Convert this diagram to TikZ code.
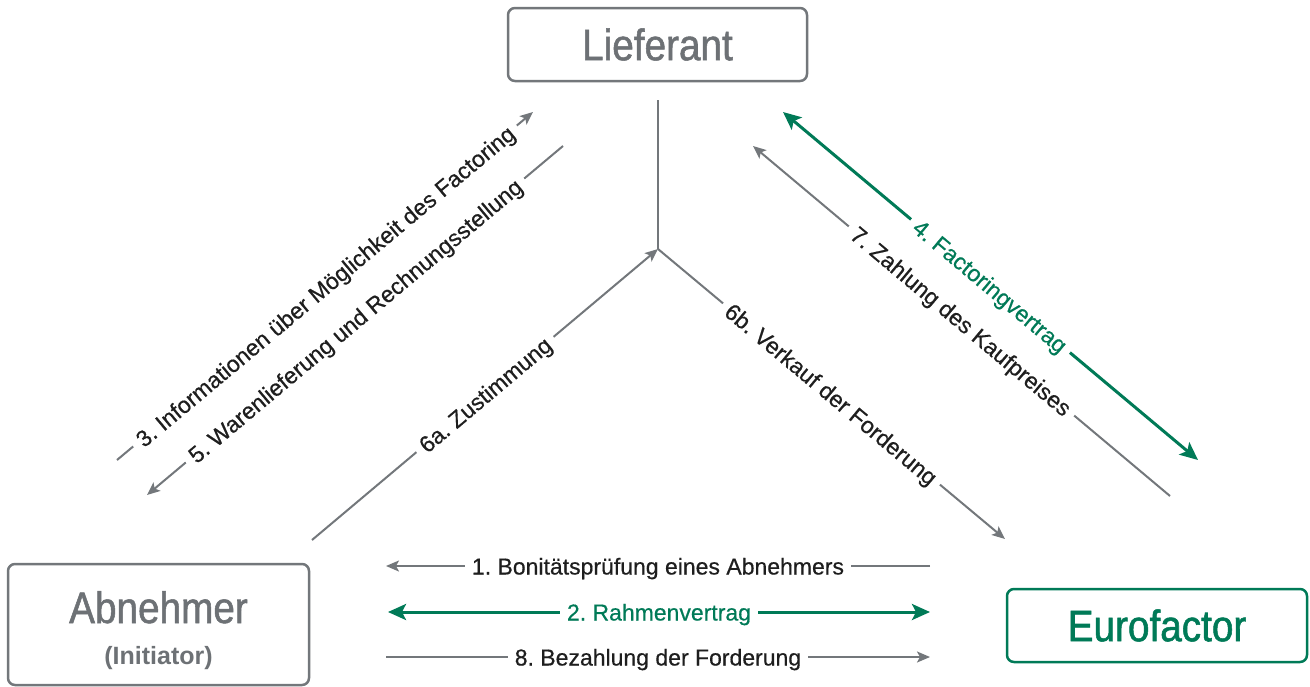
\documentclass[tikz,border=0pt]{standalone}
\usepackage{fontspec}
\setmainfont{Liberation Sans}
\newfontfamily\condfont[FakeStretch=0.88,FakeBold=1.2]{Liberation Sans}
\newfontfamily\lblfont[FakeBold=0.5]{Liberation Sans}
\usetikzlibrary{arrows.meta}
\definecolor{lgray}{HTML}{73777B}
\definecolor{tgray}{HTML}{6D7175}
\definecolor{egreen}{HTML}{007A57}
\definecolor{tblack}{HTML}{1E1E1E}
\tikzset{
  boxnode/.style={draw=lgray, line width=2.5pt, rounded corners=7pt, outer sep=0pt, inner sep=0pt,
    text=tgray, font=\condfont\fontsize{44}{44}\selectfont},
  boxtext/.style={text=tgray, inner sep=0pt, font=\condfont\fontsize{44}{44}\selectfont},
  subtext/.style={text=tgray, inner sep=0pt, font=\bfseries\fontsize{25}{25}\selectfont},
  grayline/.style={draw=lgray, line width=2pt},
  grayarrow/.style={grayline, -{Stealth[length=13pt,width=11pt,inset=3pt]}},
  greenline/.style={draw=egreen, line width=3pt},
  greentips/.style={{Stealth[length=18pt,width=16pt,inset=4pt]}-{Stealth[length=18pt,width=16pt,inset=4pt]}},
  lbl/.style={fill=white, font=\lblfont\fontsize{23}{23}\selectfont, text=tblack, inner xsep=7pt, inner ysep=1pt,
    text height=17pt, text depth=0pt, pos=0.5},
}
\frenchspacing
\begin{document}
\begin{tikzpicture}[x=1pt,y=-1pt]
\useasboundingbox (0,0) rectangle (1310,686);
% boxes
\node[boxnode, minimum width=299pt, minimum height=73pt] (lief) at (657.5,44.5) {Lieferant};
\node[boxnode, minimum width=301pt, minimum height=121pt] (abn) at (158.5,624.5) {};
\node[boxtext, anchor=base] (abnT) at (158.5,623) {Abnehmer};
\node[subtext, anchor=base] (abnI) at (158.5,664) {(Initiator)};
\node[boxnode, draw=egreen, text=egreen, minimum width=300pt, minimum height=73pt] (euro) at (1157,625.5) {Eurofactor};
% coordinates
\coordinate (vtop) at (658,100);
\coordinate (J) at (658,249);
\coordinate (p3a) at (117,460);
\coordinate (p3b) at (533,112);
\coordinate (p5a) at (563,146);
\coordinate (p5b) at (147,495);
\coordinate (p4a) at (783,112);
\coordinate (p4b) at (1198,460);
\coordinate (p7a) at (1170,496);
\coordinate (p7b) at (753,146);
\coordinate (p6a) at (312,540);
\coordinate (p6b) at (1005,539);
\coordinate (h1a) at (930,566);
\coordinate (h1b) at (386,566);
\coordinate (h2a) at (388,612);
\coordinate (h2b) at (930,612);
\coordinate (h8a) at (386,657);
\coordinate (h8b) at (930,657);
% connectors
\draw[grayline] (vtop) -- (J);
\draw[grayarrow] (p6a) -- node[lbl, sloped] (t6a) {6a. Zustimmung} (J);
\draw[grayarrow] (J) -- node[lbl, sloped] (t6b) {6b. Verkauf der Forderung} (p6b);
\draw[grayarrow] (p3a) -- node[lbl, sloped] (t3) {3. Informationen über Möglichkeit des Factoring} (p3b);
\draw[grayarrow] (p5a) -- node[lbl, sloped] (t5) {5. Warenlieferung und Rechnungsstellung} (p5b);
\draw[greenline, greentips] (p4a) -- node[lbl, sloped, text=egreen] (t4) {4. Factoringvertrag} (p4b);
\draw[grayarrow] (p7a) -- node[lbl, sloped] (t7) {7. Zahlung des Kaufpreises} (p7b);
\draw[grayarrow] (h1a) -- node[lbl] (t1) {1. Bonitätsprüfung eines Abnehmers} (h1b);
\draw[greenline, greentips] (h2a) -- node[lbl, text=egreen] (t2) {2. Rahmenvertrag} (h2b);
\draw[grayarrow] (h8a) -- node[lbl] (t8) {8. Bezahlung der Forderung} (h8b);
\end{tikzpicture}
\end{document}
